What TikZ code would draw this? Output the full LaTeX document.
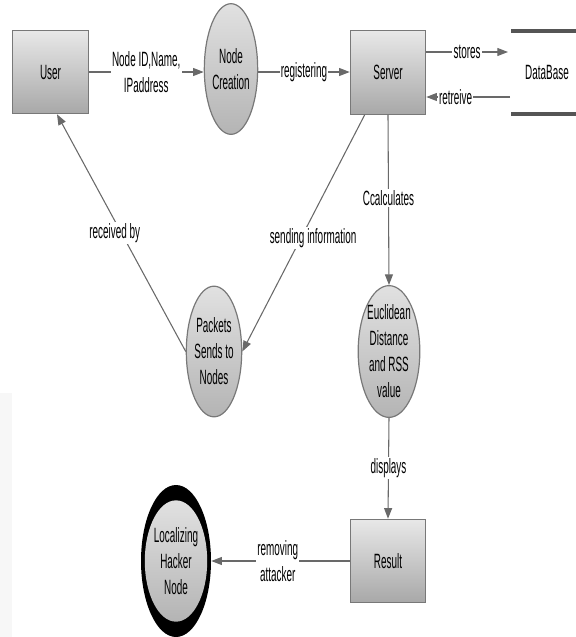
\documentclass[tikz,border=0pt]{standalone}
\usepackage{fontspec}
\setmainfont[FakeStretch=0.48]{Liberation Sans}
\usetikzlibrary{shapes.geometric,arrows.meta}
\definecolor{edgegray}{RGB}{120,120,120}
\definecolor{linegray}{RGB}{105,105,105}
\definecolor{boxtop}{RGB}{232,232,232}
\definecolor{boxbot}{RGB}{168,168,168}
\definecolor{elltop}{RGB}{225,225,225}
\definecolor{ellbot}{RGB}{180,180,180}
\definecolor{dbgray}{RGB}{85,85,85}
\tikzset{
  every node/.style={font=\fontsize{15.5}{19.5}\selectfont, align=center},
  procbox/.style={rectangle, draw=edgegray, line width=0.9pt, top color=boxtop, bottom color=boxbot,
    minimum width=56.5pt, minimum height=62.5pt, inner sep=0pt},
  procell/.style={ellipse, draw=edgegray, line width=0.9pt, top color=elltop, bottom color=ellbot,
    minimum width=40pt, minimum height=98pt, inner sep=0pt},
  flow/.style={draw=linegray, line width=0.8pt, -{Triangle[length=8pt,width=6pt]}},
  lbl/.style={fill=white, inner sep=1pt}
}
\begin{document}
\begin{tikzpicture}[x=0.75pt,y=-0.75pt]
\useasboundingbox (0,0) rectangle (576,637);
% faint watermark
\fill[gray!6] (0,393) -- (12,393) -- (12,637) -- (0,637) -- cycle;

% nodes
\node[procbox] (user) at (50.5,72) {User};
\node[procell] (nc) at (231,69) {Node\\Creation};
\node[procbox] (server) at (388,72.5) {Server};
\node (db) at (547,72) {DataBase};
\coordinate (dbtl) at (511,31);
\coordinate (dbtr) at (576,31);
\coordinate (dbbl) at (511,114);
\coordinate (dbbr) at (576,114);
\draw[dbgray, line width=2.4pt] (dbtl) -- (dbtr);
\draw[dbgray, line width=2.4pt] (dbbl) -- (dbbr);
\coordinate (stend) at (508,52);
\coordinate (rtstart) at (510,97);

\node[procell] (pk) at (214,351.5) {Packets\\Sends to\\Nodes};
\node[procell] (eu) at (389,351.5) {Euclidean\\Distance\\and RSS\\value};
\node[procbox] (res) at (388,561) {Result};
\node[ellipse, fill=black, minimum width=52.5pt, minimum height=114pt, inner sep=0pt] (locout) at (176,561) {};
\node[ellipse, top color=elltop, bottom color=ellbot, minimum width=41pt, minimum height=91pt, inner sep=0pt] (loc) at (176,561) {Localizing\\Hacker\\Node};

% connectors
\draw[flow] (user.east |- 0,72) -- node[lbl] {Node ID,Name,\\IPaddress} (nc.west |- 0,72);
\draw[flow] (nc.east |- 0,72) -- node[lbl] {registering} (server.west |- 0,72);
\draw[flow] (server.east |- 0,52) -- node[lbl, pos=0.5] {stores} (stend);
\draw[flow] (rtstart) -- node[lbl, pos=0.65] {retreive} (server.east |- 0,97);
\draw[flow] (server.south) -- node[lbl, pos=0.49] {Ccalculates} (eu.north);
\draw[flow] (server.south west) ++(15,0) coordinate (sisrc) (sisrc) -- node[lbl, pos=0.52, xshift=9pt] {sending information} (pk.east);
\draw[flow] (pk.west) -- node[lbl, pos=0.5, xshift=-5pt] {received by} (user.south -| 57,0);
\draw[flow] (eu.south) -- node[lbl, pos=0.5] {displays} (res.north);
\draw[flow] (res.west) -- node[lbl, pos=0.52] {removing\\attacker} (locout.east);
\end{tikzpicture}
\end{document}
